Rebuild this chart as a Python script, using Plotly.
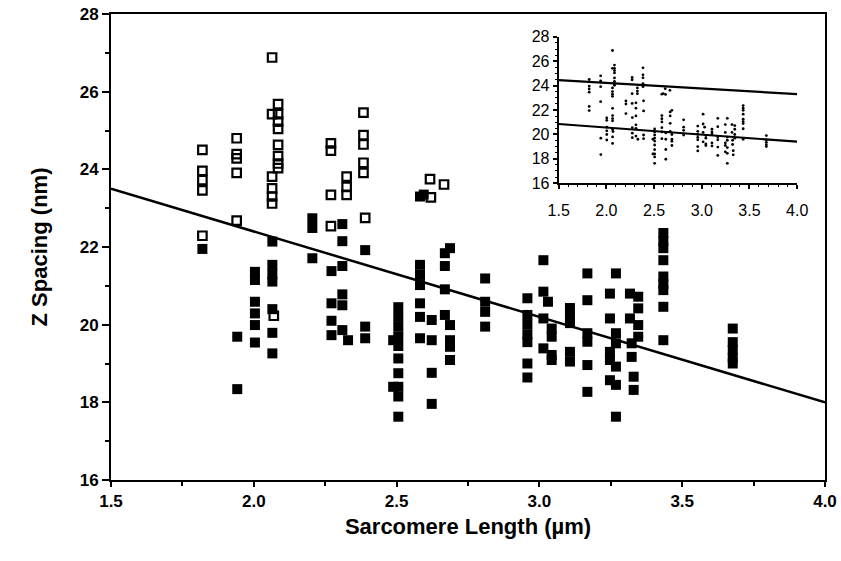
import plotly.graph_objects as go

# open squares (upper population)
open_x = [1.82, 1.82, 1.82, 1.82, 1.82,
          1.94, 1.94, 1.94, 1.94, 1.94,
          2.085, 2.085, 2.085, 2.085, 2.085, 2.085, 2.085, 2.085,
          2.064, 2.064, 2.064, 2.064, 2.064, 2.064, 2.07,
          2.27, 2.27, 2.27, 2.27,
          2.325, 2.325, 2.325,
          2.384, 2.384, 2.384, 2.384, 2.384, 2.39,
          2.617, 2.666, 2.62]
open_y = [24.50, 23.96, 23.72, 23.46, 22.29,
          24.80, 24.39, 24.28, 23.91, 22.68,
          25.68, 25.42, 25.23, 25.04, 24.63, 24.34, 24.15, 24.03,
          26.88, 25.42, 23.81, 23.51, 23.30, 23.12, 20.23,
          24.67, 24.48, 23.34, 22.54,
          23.81, 23.55, 23.34,
          25.46, 24.88, 24.64, 24.17, 23.91, 22.75,
          23.75, 23.61, 23.28]

# filled squares (lower population)
filled_x = [1.82,
            1.942, 1.942,
            2.004, 2.004, 2.004, 2.004, 2.004, 2.004,
            2.065, 2.065, 2.065, 2.065, 2.065, 2.065, 2.065,
            2.205, 2.205, 2.205,
            2.272, 2.272, 2.272, 2.272,
            2.31, 2.31, 2.31, 2.31, 2.31, 2.31, 2.33,
            2.39, 2.39, 2.39,
            2.506, 2.506, 2.506, 2.506, 2.506, 2.506, 2.506, 2.506, 2.506, 2.506, 2.488, 2.488,
            2.582, 2.582, 2.582, 2.582, 2.582, 2.582, 2.582, 2.595,
            2.623, 2.623, 2.623, 2.623,
            2.669, 2.669, 2.669, 2.669, 2.687, 2.687, 2.687, 2.687, 2.687,
            2.81, 2.81, 2.81, 2.81,
            2.958, 2.958, 2.958, 2.958, 2.958, 2.958, 2.958,
            3.014, 3.014, 3.014, 3.014, 3.03, 3.043, 3.043, 3.043, 3.043,
            3.107, 3.107, 3.107, 3.107, 3.107,
            3.168, 3.168, 3.168, 3.168, 3.168, 3.168,
            3.247, 3.247, 3.247, 3.247, 3.247, 3.268, 3.268, 3.268, 3.268, 3.268, 3.268,
            3.317, 3.317, 3.346, 3.346, 3.346, 3.346, 3.323, 3.323, 3.33, 3.33,
            3.434, 3.434, 3.434, 3.434, 3.434, 3.434, 3.434, 3.434, 3.434,
            3.677, 3.677, 3.677, 3.677, 3.677]
filled_y = [21.95,
            19.69, 18.34,
            21.36, 21.15, 20.59, 20.29, 19.99, 19.54,
            22.14, 21.54, 21.30, 21.11, 20.40, 19.79, 19.26,
            22.74, 22.49, 21.71,
            21.38, 20.55, 20.10, 19.73,
            22.59, 22.15, 21.51, 20.78, 20.50, 19.86, 19.60,
            21.92, 19.95, 19.65,
            20.45, 20.20, 19.95, 19.70, 19.45, 19.13, 18.75, 18.40, 18.15, 17.63, 19.60, 18.40,
            23.30, 21.54, 21.28, 21.02, 20.55, 20.20, 19.65, 23.35,
            20.12, 19.60, 18.76, 17.96,
            21.84, 21.51, 20.91, 20.25, 21.97, 19.99, 19.60, 19.43, 19.09,
            21.19, 20.59, 20.33, 19.95,
            20.68, 20.25, 20.00, 19.75, 19.55, 19.00, 18.64,
            21.66, 20.85, 20.16, 19.39, 20.59, 19.90, 19.69, 19.22, 19.09,
            20.43, 20.20, 20.04, 19.30, 19.05,
            21.32, 20.63, 19.78, 19.56, 18.96, 18.27,
            20.80, 20.16, 19.30, 19.09, 18.57, 21.32, 19.78, 19.52, 18.92, 18.45, 17.63,
            20.80, 20.16, 20.72, 20.42, 19.99, 19.69, 19.52, 19.17, 18.66, 18.32,
            22.36, 22.15, 21.97, 21.66, 21.24, 21.05, 20.89, 20.46, 19.60,
            19.90, 19.55, 19.35, 19.15, 19.00]

# regression lines
fit_x = [1.5, 4.0]
fit_y = [23.5, 18.0]
inset_upper_y = [24.45, 23.3]
inset_lower_y = [20.85, 19.4]

FONT = "Liberation Sans, Arial, sans-serif"

fig = go.Figure()

fig.add_trace(go.Scatter(x=fit_x, y=fit_y, mode="lines",
                         line=dict(color="black", width=2.5)))
fig.add_trace(go.Scatter(x=filled_x, y=filled_y, mode="markers",
                         marker=dict(symbol="square", size=10, color="black",
                                     line=dict(width=0))))
fig.add_trace(go.Scatter(x=open_x, y=open_y, mode="markers",
                         marker=dict(symbol="square-open", size=8.5, color="black",
                                     line=dict(width=2.2, color="black"))))

# inset: all points as small dots with two fits
fig.add_trace(go.Scatter(x=open_x + filled_x, y=open_y + filled_y, mode="markers",
                         marker=dict(symbol="circle", size=2.8, color="black"),
                         xaxis="x2", yaxis="y2"))
fig.add_trace(go.Scatter(x=fit_x, y=inset_upper_y, mode="lines",
                         line=dict(color="black", width=2.2), xaxis="x2", yaxis="y2"))
fig.add_trace(go.Scatter(x=fit_x, y=inset_lower_y, mode="lines",
                         line=dict(color="black", width=2.2), xaxis="x2", yaxis="y2"))

fig.update_layout(
    template="none",
    width=841, height=561,
    margin=dict(l=111, r=16, t=14, b=81),
    paper_bgcolor="white", plot_bgcolor="white",
    showlegend=False,
    font=dict(family=FONT, color="black"),
    xaxis=dict(range=[1.5, 4.0], dtick=0.5, tickformat=".1f", automargin=False,
               showgrid=False, zeroline=False,
               showline=True, linecolor="black", linewidth=2, mirror=True,
               ticks="outside", ticklen=5, tickwidth=2, tickcolor="black",
               minor=dict(dtick=0.25, ticks="outside", ticklen=4, tickwidth=1.5, tickcolor="black"),
               tickfont=dict(size=17, weight="bold"),
               title=dict(text="Sarcomere Length (µm)", font=dict(size=22, weight="bold"), standoff=8)),
    yaxis=dict(range=[16, 28], dtick=2, automargin=False,
               showgrid=False, zeroline=False,
               showline=True, linecolor="black", linewidth=2, mirror=True,
               ticks="outside", ticklen=7, tickwidth=2, tickcolor="black",
               minor=dict(dtick=1, ticks="outside", ticklen=4, tickwidth=1.5, tickcolor="black"),
               tickfont=dict(size=17, weight="bold"),
               title=dict(text="Z Spacing (nm)", font=dict(size=22, weight="bold"), standoff=26)),
    xaxis2=dict(domain=[0.627, 0.961], anchor="y2", range=[1.5, 4.0], dtick=0.5,
                tickformat=".1f", automargin=False, showgrid=False, zeroline=False,
                showline=True, linecolor="black", linewidth=2,
                ticks="outside", ticklen=4, tickwidth=1.5, tickcolor="black",
                ticklabelstandoff=8,
                minor=dict(dtick=0.1, ticks="outside", ticklen=2, tickwidth=1, tickcolor="black"),
                tickfont=dict(size=16)),
    yaxis2=dict(domain=[0.637, 0.951], anchor="x2", range=[16, 28], dtick=2,
                automargin=False, showgrid=False, zeroline=False,
                showline=True, linecolor="black", linewidth=2,
                ticks="outside", ticklen=4, tickwidth=1.5, tickcolor="black",
                minor=dict(dtick=0.5, ticks="outside", ticklen=2, tickwidth=1, tickcolor="black"),
                tickfont=dict(size=16)),
)

fig.write_html("out.html", config={"displayModeBar": False},
               post_script="document.body.style.margin='0';")
